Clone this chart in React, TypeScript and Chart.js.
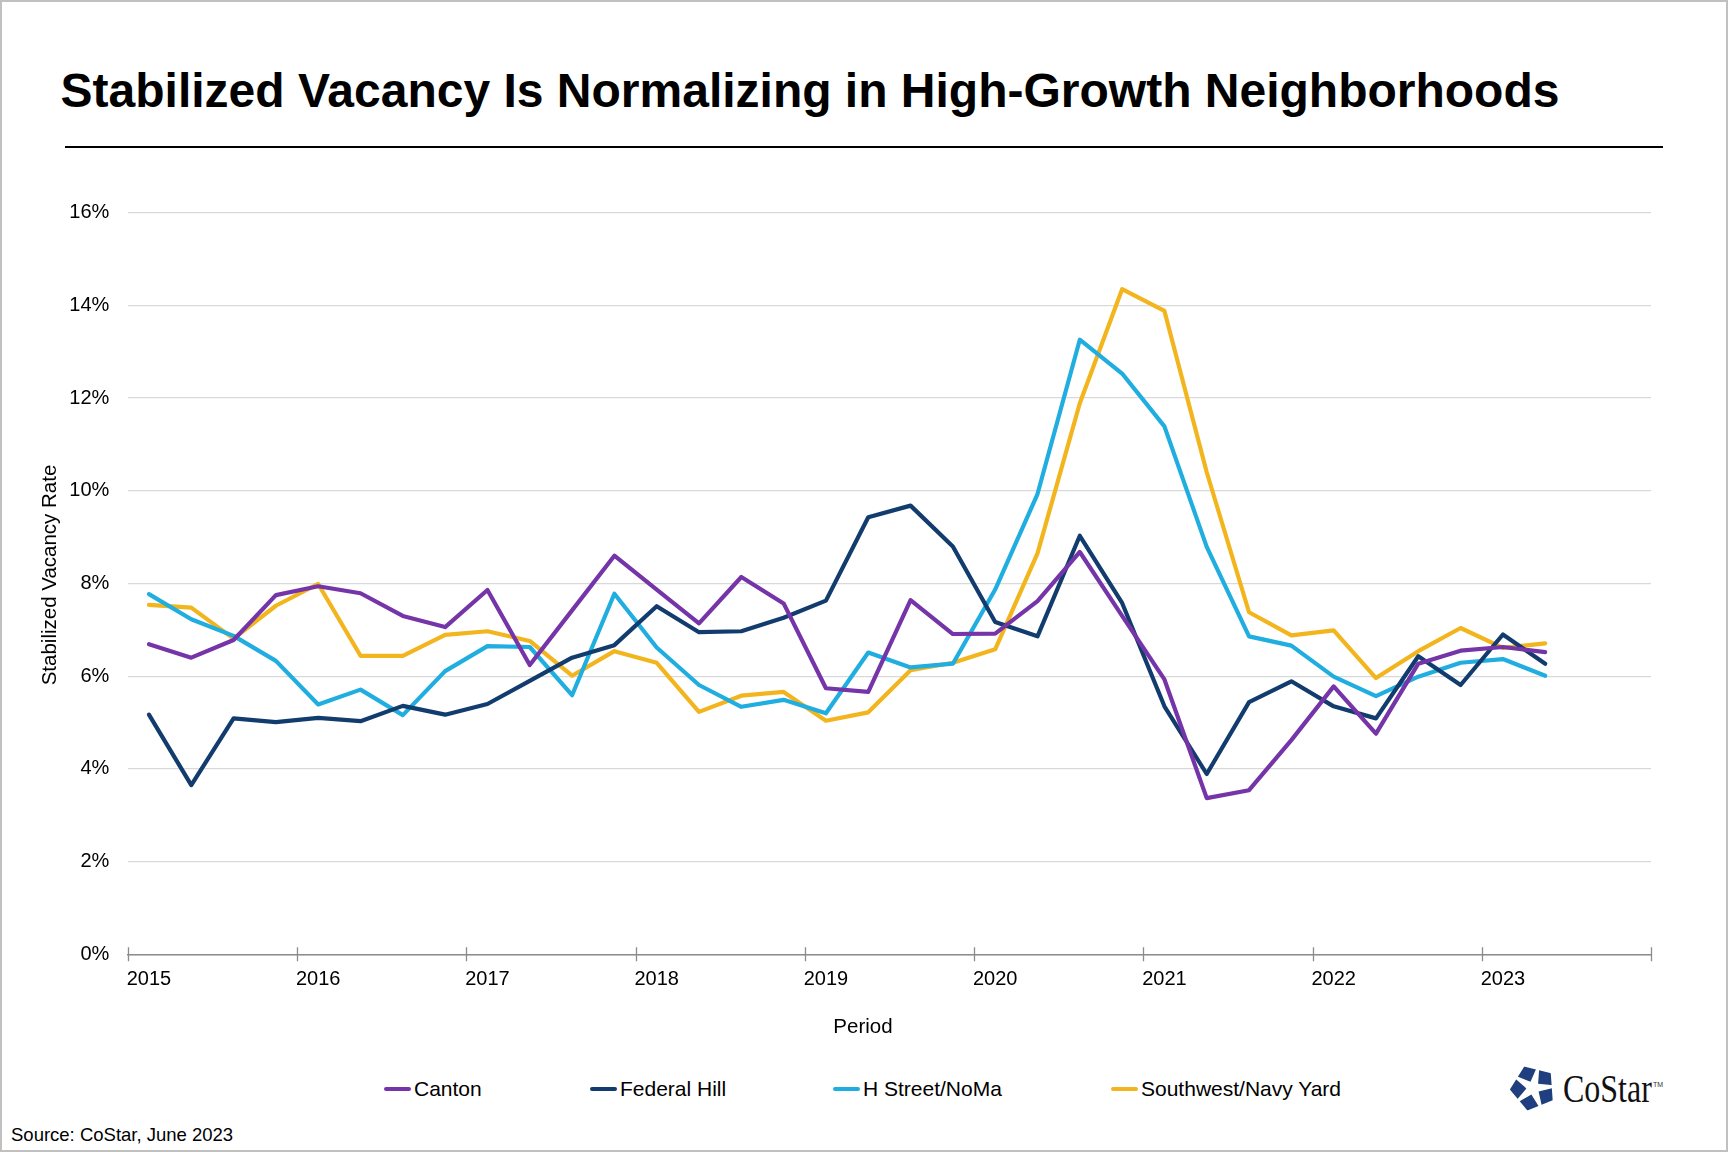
import { useEffect, useRef } from "react"
import { Chart, registerables, type ChartConfiguration, type Plugin } from "chart.js"

Chart.register(...registerables)

Chart.defaults.font.family = "'Liberation Sans', Arial, sans-serif"
Chart.defaults.color = "#000"

// 분기별 카테고리 (2015 Q1 ~ 2023 Q4), 데이터는 2023 Q2까지
const years = [2015, 2016, 2017, 2018, 2019, 2020, 2021, 2022, 2023]
const quarters = ["Q1", "Q2", "Q3", "Q4"]
const periods = years.flatMap((y) => quarters.map((q) => `${y} ${q}`))

const yTicks = [0, 2, 4, 6, 8, 10, 12, 14, 16]

const canton = [
  6.69, 6.4, 6.78, 7.75, 7.94, 7.79, 7.3, 7.06, 7.86, 6.24, 7.42, 8.6, 7.87, 7.14, 8.14, 7.57, 5.74,
  5.66, 7.64, 6.91, 6.92, 7.62, 8.68, 7.3, 5.93, 3.37, 3.54, 4.62, 5.78, 4.76, 6.27, 6.55, 6.63, 6.52,
]
const federalHill = [
  5.17, 3.65, 5.09, 5.01, 5.1, 5.03, 5.36, 5.17, 5.4, 5.9, 6.4, 6.67, 7.51, 6.95, 6.97, 7.26, 7.63,
  9.43, 9.68, 8.8, 7.17, 6.86, 9.03, 7.58, 5.35, 3.89, 5.44, 5.89, 5.35, 5.09, 6.43, 5.81, 6.9, 6.27,
]
const hStreet = [
  7.77, 7.23, 6.87, 6.33, 5.39, 5.71, 5.16, 6.11, 6.65, 6.63, 5.59, 7.78, 6.62, 5.81, 5.34, 5.49, 5.2,
  6.51, 6.19, 6.27, 7.87, 9.93, 13.26, 12.53, 11.39, 8.79, 6.86, 6.66, 5.99, 5.57, 5.99, 6.29, 6.37, 6.01,
]
const southwest = [
  7.54, 7.48, 6.81, 7.52, 7.99, 6.44, 6.44, 6.89, 6.97, 6.76, 6.01, 6.54, 6.29, 5.23, 5.58, 5.66, 5.04,
  5.22, 6.13, 6.29, 6.58, 8.65, 11.89, 14.35, 13.88, 10.4, 7.38, 6.88, 6.99, 5.96, 6.54, 7.04, 6.61, 6.71,
]

const series = [
  { name: "Canton", values: canton, color: "#7535a8" },
  { name: "Federal Hill", values: federalHill, color: "#123c6e" },
  { name: "H Street/NoMa", values: hStreet, color: "#20aee0" },
  { name: "Southwest/Navy Yard", values: southwest, color: "#f2b51e" },
]

const legendX = [384, 590, 833, 1111]

const axisColor = "#8c8c8c"
const gridColor = "#d9d9d9"

// 연도 경계에 축을 가로지르는 눈금 표시
const yearTicksPlugin: Plugin<"line"> = {
  id: "yearTicks",
  afterDraw(chart) {
    const x = chart.scales.x
    const { ctx } = chart
    const step = x.width / periods.length
    ctx.save()
    ctx.strokeStyle = axisColor
    ctx.lineWidth = 1.3
    ctx.beginPath()
    for (let i = 0; i <= periods.length; i += quarters.length) {
      const px = Math.round(x.left + i * step) + 0.5
      ctx.moveTo(px, x.top - 7)
      ctx.lineTo(px, x.top + 7)
    }
    ctx.stroke()
    ctx.restore()
  },
}

function VacancyChart() {
  const chartRef = useRef<HTMLCanvasElement>(null)
  const chartInstance = useRef<Chart | null>(null)

  useEffect(() => {
    if (!chartRef.current) return
    if (chartInstance.current) chartInstance.current.destroy()

    const config: ChartConfiguration<"line"> = {
      type: "line",
      data: {
        labels: periods,
        datasets: series.map((s) => ({
          label: s.name,
          data: s.values,
          borderColor: s.color,
          backgroundColor: s.color,
          borderWidth: 4.2,
          borderJoinStyle: "round",
          borderCapStyle: "round",
          pointRadius: 0,
          pointHoverRadius: 0,
          tension: 0,
          fill: false,
        })),
      },
      options: {
        responsive: true,
        maintainAspectRatio: false,
        animation: false,
        layout: { padding: { top: 52.7, right: 77, left: 0, bottom: 0 } },
        plugins: {
          legend: { display: false },
          tooltip: { enabled: false },
        },
        scales: {
          x: {
            type: "category",
            offset: true,
            afterFit: (scale) => {
              scale.height = 105.7
            },
            grid: { display: false },
            border: { display: true, color: axisColor, width: 1.5 },
            ticks: {
              autoSkip: false,
              maxRotation: 0,
              padding: 4.8,
              font: { size: 20 },
              color: "#000",
              callback: (_v, index) => (index % quarters.length === 0 ? String(years[index / quarters.length]) : ""),
            },
          },
          y: {
            min: yTicks[0],
            max: yTicks[yTicks.length - 1],
            afterFit: (scale) => {
              scale.width = 127.8
            },
            afterBuildTicks: (scale) => {
              scale.ticks = yTicks.map((v) => ({ value: v }))
            },
            grid: { color: gridColor, lineWidth: 1.3, drawTicks: false },
            border: { display: false },
            ticks: {
              padding: 18.5,
              font: { size: 20 },
              color: "#000",
              callback: (v) => `${v}%`,
            },
          },
        },
      },
      plugins: [yearTicksPlugin],
    }

    chartInstance.current = new Chart(chartRef.current, config)

    return () => {
      if (chartInstance.current) {
        chartInstance.current.destroy()
        chartInstance.current = null
      }
    }
  }, [])

  return <canvas ref={chartRef} />
}

function StarMark() {
  // 오각형에서 흰 별 모양을 뺀 로고
  const pent = [0, 1, 2, 3, 4]
    .map((k) => {
      const a = ((-54 + 72 * k) * Math.PI) / 180
      return `${50 * Math.cos(a)},${50 * Math.sin(a)}`
    })
    .join(" ")
  const star = Array.from({ length: 10 }, (_, k) => {
    const r = k % 2 === 0 ? 64 : 15
    const a = ((-90 + 36 * k) * Math.PI) / 180
    return `${r * Math.cos(a)},${r * Math.sin(a)}`
  }).join(" ")
  return (
    <svg width={46} height={50} viewBox="-52 -52 104 104" style={{ position: "absolute", left: 1510, top: 1063 }}>
      <g transform="rotate(14)">
        <polygon points={pent} fill="#1f3f7f" strokeLinejoin="round" stroke="#1f3f7f" strokeWidth={4} />
        <polygon points={star} fill="#fff" />
      </g>
    </svg>
  )
}

export default function App() {
  return (
    <div
      style={{
        position: "fixed",
        left: 0,
        top: 0,
        width: 1728,
        height: 1152,
        boxSizing: "border-box",
        border: "2px solid #c0c0c0",
        background: "#fff",
        fontFamily: "'Liberation Sans', Arial, sans-serif",
        color: "#000",
        overflow: "hidden",
      }}
    >
      <div style={{ position: "absolute", left: -2, top: -2, width: 1728, height: 1152 }}>
        <div
          style={{
            position: "absolute",
            left: 60.6,
            top: 66.7,
            fontSize: 48,
            lineHeight: "48px",
            fontWeight: "bold",
            whiteSpace: "nowrap",
          }}
        >
          Stabilized Vacancy Is Normalizing in High-Growth Neighborhoods
        </div>
        <div style={{ position: "absolute", left: 65, top: 145.7, width: 1598, height: 2, background: "#000" }} />

        <div style={{ position: "absolute", left: 0, top: 160, width: 1728, height: 900 }}>
          <VacancyChart />
        </div>

        {/* 축 제목 */}
        <div
          style={{
            position: "absolute",
            left: 49 - 150,
            top: 575 - 12,
            width: 300,
            height: 24,
            lineHeight: "24px",
            fontSize: 20.5,
            textAlign: "center",
            whiteSpace: "nowrap",
            transform: "rotate(-90deg)",
            transformOrigin: "center center",
          }}
        >
          Stabilized Vacancy Rate
        </div>
        <div
          style={{
            position: "absolute",
            left: 863 - 100,
            top: 1026 - 12,
            width: 200,
            height: 24,
            lineHeight: "24px",
            fontSize: 20.5,
            textAlign: "center",
          }}
        >
          Period
        </div>

        {series.map((s, i) => (
          <div
            key={s.name}
            style={{
              position: "absolute",
              left: legendX[i],
              top: 1077,
              height: 24,
              display: "flex",
              alignItems: "center",
              whiteSpace: "nowrap",
              fontSize: 21,
              lineHeight: "24px",
            }}
          >
            <span style={{ display: "inline-block", width: 27, height: 3.5, borderRadius: 2, background: s.color, marginRight: 3 }} />
            <span>{s.name}</span>
          </div>
        ))}

        <div style={{ position: "absolute", left: 11, top: 1124, fontSize: 18.5, lineHeight: "22px", whiteSpace: "nowrap" }}>
          Source: CoStar, June 2023
        </div>

        <StarMark />
        <div
          style={{
            position: "absolute",
            left: 1563,
            top: 1069.3,
            fontFamily: "'Liberation Serif', 'Times New Roman', serif",
            fontSize: 39,
            lineHeight: "39px",
            whiteSpace: "nowrap",
            transform: "scaleX(0.82)",
            transformOrigin: "left top",
            color: "#111",
          }}
        >
          CoStar
        </div>
        <div style={{ position: "absolute", left: 1653, top: 1081, fontSize: 7, lineHeight: "8px", color: "#333" }}>TM</div>
      </div>
    </div>
  )
}
